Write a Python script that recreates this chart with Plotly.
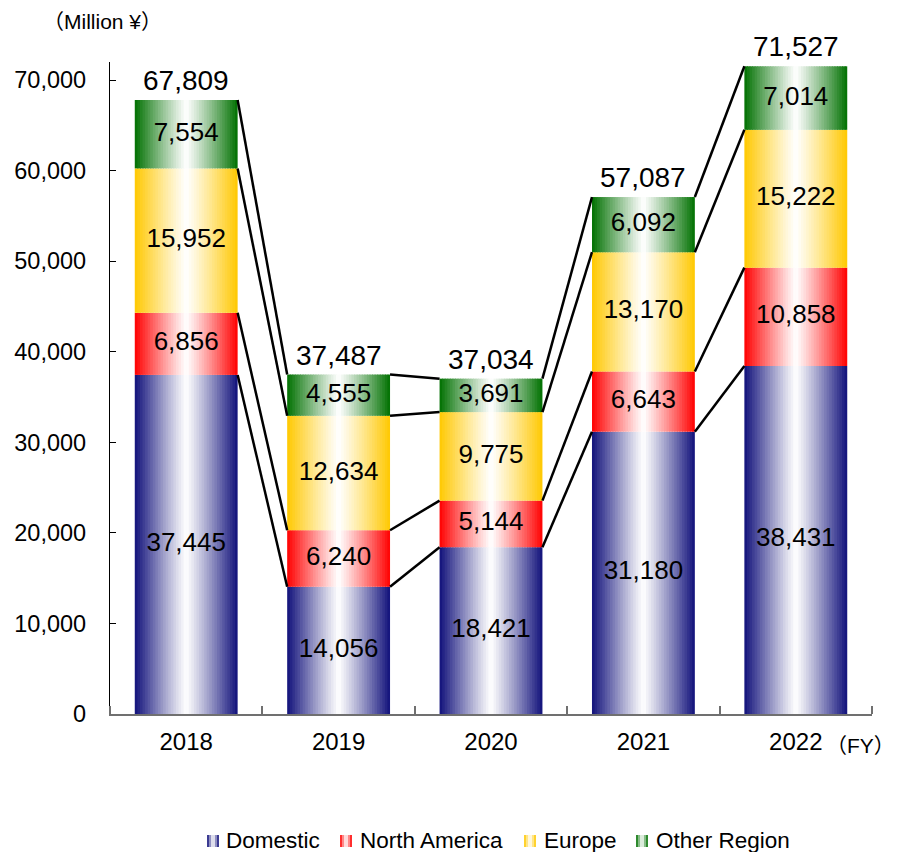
import plotly.graph_objects as go

years = ["2018", "2019", "2020", "2021", "2022"]
domestic = [37445, 14056, 18421, 31180, 38431]
north_america = [6856, 6240, 5144, 6643, 10858]
europe = [15952, 12634, 9775, 13170, 15222]
other_region = [7554, 4555, 3691, 6092, 7014]
totals = [67809, 37487, 37034, 57087, 71527]

series = [
    ("Domestic", domestic, (16, 16, 122)),
    ("North America", north_america, (255, 0, 0)),
    ("Europe", europe, (255, 200, 0)),
    ("Other Region", other_region, (0, 112, 0)),
]

FONT = "Arial, Liberation Sans, sans-serif"
CJK = "Arial, Liberation Sans, Noto Sans CJK JP, sans-serif"
W = 0.675
N = 40
xs = list(range(len(years)))

# figure geometry (pixels)
FW, FH = 898, 852
ML, MR, MT, MB = 110, 26, 62, 138
PW, PH = FW - ML - MR, FH - MT - MB


def px2paper(px, py):
    return (px - ML) / PW, (FH - MB - py) / PH


fig = go.Figure()


def mix(c, f):
    return "rgb(%d,%d,%d)" % tuple(round(255 + (ci - 255) * f) for ci in c)


bases = [0] * len(years)
levels = []
label_traces = []
for name, vals, col in series:
    step = W / N
    for k in range(N):
        t = (k + 0.5) / N
        d = abs(2 * t - 1)
        f = d ** 1.1
        wk = step * 1.4 if k < N - 1 else step
        fig.add_trace(go.Bar(
            x=xs, y=vals, base=list(bases),
            width=[wk] * len(xs), offset=-W / 2 + k * step,
            marker=dict(color=mix(col, f), line=dict(width=0)),
            showlegend=False, hoverinfo="skip",
        ))
    mids = [b + v / 2 for b, v in zip(bases, vals)]
    label_traces.append(go.Scatter(
        x=xs, y=mids, mode="text",
        text=[f"{v:,}" for v in vals],
        textfont=dict(size=26, color="black", family=FONT),
        showlegend=False, hoverinfo="skip", cliponaxis=False,
    ))
    bases = [b + v for b, v in zip(bases, vals)]
    levels.append(list(bases))

for tr in label_traces:
    fig.add_trace(tr)

# connecting lines
for lev in levels:
    lx, ly = [], []
    for i in range(len(xs) - 1):
        lx += [xs[i] + W / 2, xs[i + 1] - W / 2, None]
        ly += [lev[i], lev[i + 1], None]
    fig.add_trace(go.Scatter(x=lx, y=ly, mode="lines",
                             line=dict(color="black", width=2.5),
                             showlegend=False, hoverinfo="skip",
                             cliponaxis=False))

annotations = []
# totals above bars
for x, v in zip(xs, totals):
    annotations.append(dict(x=x, y=v, xref="x", yref="y", text=f"{v:,}",
                            showarrow=False, xanchor="center", yanchor="bottom",
                            yshift=2, font=dict(size=28, family=FONT)))

# custom legend (small gradient icons + labels)
shapes = []
legend_pos = [(207, 224), (340, 358), (524, 542), (636, 654)]
for (name, vals, col), (ix, tx) in zip(series, legend_pos):
    ns = 6
    for k in range(ns):
        t = (k + 0.5) / ns
        f = abs(2 * t - 1) ** 1.1
        x0, y0 = px2paper(ix + k * 2, 847)
        x1, y1 = px2paper(ix + k * 2 + 2, 835)
        shapes.append(dict(type="rect", xref="paper", yref="paper",
                           x0=x0, x1=x1, y0=y0, y1=y1,
                           fillcolor=mix(col, max(f, 0.05)), line=dict(width=0)))
    ax, ay = px2paper(tx, 840)
    annotations.append(dict(text=name, xref="paper", yref="paper", x=ax, y=ay,
                            xanchor="left", yanchor="middle", showarrow=False,
                            font=dict(size=22.5, family=FONT)))

mx, my = px2paper(41, 22)
annotations.append(dict(text="（Million ¥）", xref="paper", yref="paper",
                        x=mx, y=my, xanchor="left", yanchor="middle",
                        showarrow=False, font=dict(size=21, family=CJK)))
fx, fy = px2paper(897, 745)
annotations.append(dict(text="（FY）", xref="paper", yref="paper",
                        x=fx, y=fy, xanchor="right", yanchor="middle",
                        showarrow=False, font=dict(size=21, family=CJK)))

fig.update_layout(
    width=FW, height=FH,
    barmode="overlay",
    plot_bgcolor="white", paper_bgcolor="white",
    margin=dict(l=ML, r=MR, t=MT, b=MB, autoexpand=False),
    font=dict(family=FONT, color="black", size=22),
    showlegend=False,
    shapes=shapes,
    annotations=annotations,
)
fig.update_xaxes(
    range=[-0.5, 4.5], tickvals=xs, ticktext=years, ticks="", showgrid=False,
    zeroline=False, showline=True, linecolor="#707070", linewidth=1.5,
    tickfont=dict(size=24), ticklabelstandoff=5, automargin=False,
    minor=dict(tickvals=[i - 0.5 for i in range(len(xs) + 1)], ticks="inside",
               ticklen=8, tickcolor="#707070", tickwidth=1.5),
)
fig.update_yaxes(
    range=[0, 72000], dtick=10000, tickformat=",", ticks="inside", ticklen=6,
    tickcolor="black", showgrid=False, zeroline=False, showline=True,
    linecolor="black", linewidth=1.2, tickfont=dict(size=23.5),
    ticklabelstandoff=18, automargin=False,
)

fig.write_html("out.html",
               config={"displayModeBar": False},
               post_script="document.body.style.margin='0px';"
                           "document.body.style.overflow='hidden';")
